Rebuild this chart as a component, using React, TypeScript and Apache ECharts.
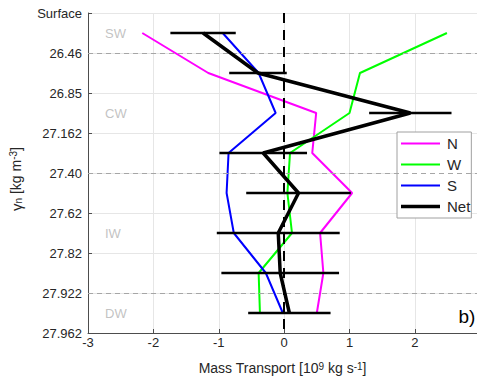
import React, { useEffect, useRef } from "react";
import * as echarts from "echarts";

const yLabels = ["Surface", "26.46", "26.85", "27.162", "27.40", "27.62", "27.82", "27.922", "27.962"];
const levels = [0.5, 1.5, 2.5, 3.5, 4.5, 5.5, 6.5, 7.5];
const northVals = [-2.17, -1.16, 0.49, 0.43, 1.04, 0.55, 0.6, 0.5];
const westVals = [2.49, 1.16, 1.0, 0.09, 0.05, 0.12, -0.39, -0.37];
const southVals = [-0.94, -0.39, -0.13, -0.85, -0.88, -0.77, -0.28, -0.02];
const netVals = [-1.24, -0.4, 1.93, -0.32, 0.22, -0.09, -0.06, 0.08];
const netErr = [0.5, 0.44, 0.63, 0.67, 0.8, 0.94, 0.9, 0.63];
const massNames = ["SW", "CW", "IW", "DW"];
const massLevels = [0.5, 2.5, 5.5, 7.5];
const boundaryLevels = [1, 4, 7];

const FONT = "Liberation Sans, Arial, sans-serif";

export default function App() {
  const ref = useRef<HTMLDivElement>(null);
  useEffect(() => {
    if (!ref.current) return;
    const chart = echarts.init(ref.current, undefined, { renderer: "svg" });
    const pair = (vals: number[]) => vals.map((v, i) => [v, levels[i]]);
    const thin = "path://M0 0H39V2H0Z";
    const thick = "path://M0 0H39V3.6H0Z";
    const option: any = {
      animation: false,
      textStyle: { fontFamily: FONT },
      grid: { left: 88, top: 13, right: 0, height: 320, containLabel: false },
      legend: {
        data: [
          { name: "N", icon: thin },
          { name: "W", icon: thin },
          { name: "S", icon: thin },
          { name: "Net", icon: thick },
        ],
        orient: "vertical",
        left: 397,
        top: 132,
        itemWidth: 39,
        itemHeight: 14,
        itemGap: 6,
        symbolKeepAspect: true,
        padding: [4, 1, 4, 4],
        backgroundColor: "#ffffff",
        borderColor: "#a0a0a0",
        borderWidth: 1,
        borderRadius: 0,
        textStyle: { fontSize: 15, color: "#262626", fontFamily: FONT, padding: [0, 0, 0, 2] },
      },
      xAxis: {
        type: "value",
        min: -3,
        max: 2.95,
        interval: 1,
        axisLine: { show: true, onZero: false, lineStyle: { color: "#4d4d4d", width: 1 } },
        axisTick: { show: true, inside: true, length: 4, lineStyle: { color: "#4d4d4d" } },
        axisLabel: {
          margin: 3,
          fontSize: 13,
          color: "#262626",
          fontFamily: FONT,
          showMaxLabel: false,
          formatter: (v: number) => (Number.isInteger(v) ? String(v) : ""),
        },
        splitLine: { show: true, showMaxLine: false, lineStyle: { color: "#e6e6e6", width: 1 } },
        name: "Mass Transport [10{sup|9} kg s{sup|-1}]",
        nameLocation: "middle",
        nameGap: 28,
        nameTextStyle: {
          fontSize: 14,
          color: "#262626",
          fontFamily: FONT,
          rich: {
            sup: { fontSize: 10, verticalAlign: "top", color: "#262626", fontFamily: FONT },
          },
        },
      },
      yAxis: {
        type: "value",
        inverse: true,
        min: 0,
        max: 8,
        interval: 1,
        axisLine: { show: true, onZero: false, lineStyle: { color: "#4d4d4d", width: 1 } },
        axisTick: { show: true, inside: true, length: 4, lineStyle: { color: "#4d4d4d" } },
        axisLabel: {
          margin: 6,
          fontSize: 13,
          color: "#262626",
          fontFamily: FONT,
          formatter: (v: number) => yLabels[Math.round(v)] ?? "",
        },
        splitLine: { show: true, lineStyle: { color: "#e6e6e6", width: 1 } },
      },
      series: [
        {
          name: "guides",
          type: "line",
          data: [],
          silent: true,
          z: 1,
          markLine: {
            silent: true,
            symbol: "none",
            label: { show: false },
            animation: false,
            lineStyle: { color: "#a6a6a6", type: [5, 4], width: 1.2 },
            data: boundaryLevels.map((l) => ({ yAxis: l })),
          },
        },
        {
          name: "masses",
          type: "scatter",
          data: massLevels.map((l) => [-2.74, l]),
          symbolSize: 0,
          silent: true,
          z: 2,
          label: {
            show: true,
            position: "right",
            distance: 0,
            fontSize: 13,
            color: "#b3b3b3",
            fontFamily: FONT,
            formatter: (p: any) => massNames[p.dataIndex],
          },
        },
        {
          name: "N",
          type: "line",
          data: pair(northVals),
          symbol: "none",
          z: 3,
          lineStyle: { color: "#ff00ff", width: 2 },
          itemStyle: { color: "#ff00ff" },
        },
        {
          name: "W",
          type: "line",
          data: pair(westVals),
          symbol: "none",
          z: 3,
          lineStyle: { color: "#00ff00", width: 2 },
          itemStyle: { color: "#00ff00" },
        },
        {
          name: "S",
          type: "line",
          data: pair(southVals),
          symbol: "none",
          z: 3,
          lineStyle: { color: "#0000ff", width: 2 },
          itemStyle: { color: "#0000ff" },
        },
        {
          name: "zero",
          type: "line",
          data: [],
          silent: true,
          z: 4,
          markLine: {
            silent: true,
            symbol: "none",
            label: { show: false },
            animation: false,
            lineStyle: { color: "#000000", type: [10, 7], width: 2 },
            data: [{ xAxis: 0 }],
          },
        },
        {
          name: "NetErr",
          type: "custom",
          z: 5,
          data: netVals.map((v, i) => [v, levels[i], netErr[i]]),
          encode: { x: 0, y: 1 },
          renderItem: (params: any, api: any) => {
            const c = api.value(0);
            const y = api.value(1);
            const e = api.value(2);
            const p1 = api.coord([c - e, y]);
            const p2 = api.coord([c + e, y]);
            return {
              type: "line",
              shape: { x1: p1[0], y1: p1[1], x2: p2[0], y2: p2[1] },
              style: { stroke: "#000000", lineWidth: 2.5 },
            };
          },
        },
        {
          name: "Net",
          type: "line",
          data: pair(netVals),
          symbol: "none",
          z: 6,
          lineStyle: { color: "#000000", width: 3.5 },
          itemStyle: { color: "#000000" },
        },
      ],
      graphic: [
        {
          type: "text",
          x: 16,
          y: 179,
          rotation: Math.PI / 2,
          style: {
            text: "{g|γ}{sub|n} [kg m{sup|-3}]",
            align: "center",
            verticalAlign: "middle",
            fill: "#262626",
            font: `14px ${FONT}`,
            rich: {
              g: { fontSize: 15, fontFamily: FONT, fill: "#262626" },
              sub: { fontSize: 10, fontFamily: FONT, verticalAlign: "bottom", fill: "#262626" },
              sup: { fontSize: 10, fontFamily: FONT, verticalAlign: "top", fill: "#262626" },
            },
          },
        },
        {
          type: "text",
          x: 467,
          y: 316,
          style: {
            text: "b)",
            align: "center",
            verticalAlign: "middle",
            fill: "#000000",
            font: `19px ${FONT}`,
          },
        },
      ],
    };
    chart.setOption(option);
    return () => chart.dispose();
  }, []);
  return (
    <div
      ref={ref}
      style={{ position: "fixed", left: 0, top: 0, width: 477, height: 380, background: "#ffffff" }}
    />
  );
}
